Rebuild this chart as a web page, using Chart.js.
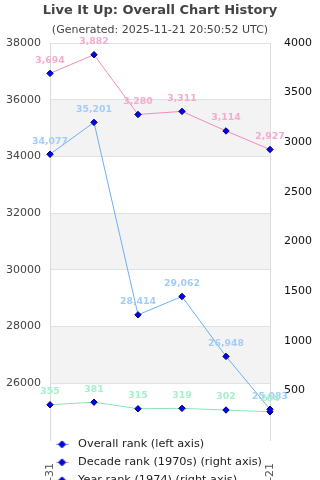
<!DOCTYPE html>
<html>
<head>
<meta charset="utf-8">
<script src="https://cdn.jsdelivr.net/npm/chart.js@4.4.1/dist/chart.umd.min.js"></script>
<style>
  html, body { margin: 0; padding: 0; background: #fff; overflow: hidden; }
  #wrap { width: 320px; height: 560px; }
</style>
</head>
<body>
<div id="wrap"><canvas id="historyChart"></canvas></div>
<script>
// snapshot dates (x axis)
const dates = ['2020-12-31', '2021-12-31', '2022-12-31', '2023-12-31', '2024-12-31', '2025-11-21'];
// ranks
const overallRank = [34077, 35201, 28414, 29062, 26948, 25083];
const decadeRank = [3694, 3882, 3280, 3311, 3114, 2927];
const yearRank = [355, 381, 315, 319, 302, 284];
// axis ranges
const leftRange = [24000, 38000];
const leftStep = 2000;
const rightRange = [0, 4000];
const rightStep = 500;

Chart.defaults.font.family = "'DejaVu Sans', sans-serif";

// legend marker: short coloured line with blue diamond on it
function legendMarker(color) {
    const c = document.createElement('canvas');
    c.width = 13;
    c.height = 9;
    const g = c.getContext('2d');
    g.strokeStyle = color;
    g.lineWidth = 1;
    g.beginPath();
    g.moveTo(0, 4.5);
    g.lineTo(13, 4.5);
    g.stroke();
    g.fillStyle = '#0000ff';
    g.strokeStyle = '#000080';
    g.beginPath();
    g.moveTo(6.5, 1);
    g.lineTo(10, 4.5);
    g.lineTo(6.5, 8);
    g.lineTo(3, 4.5);
    g.closePath();
    g.fill();
    g.stroke();
    return c;
}

// grey bands on every other interval of the left axis
const bandPlugin = {
    id: 'bands',
    beforeDraw(chart) {
        const { ctx, chartArea: a, scales: { y } } = chart;
        const ticks = y.ticks;
        ctx.save();
        ctx.fillStyle = '#f3f3f3';
        for (let i = 1; i < ticks.length - 1; i += 2) {
            const top = y.getPixelForValue(ticks[i + 1].value);
            const bottom = y.getPixelForValue(ticks[i].value);
            ctx.fillRect(a.left, top, a.right - a.left, bottom - top);
        }
        ctx.restore();
    }
};

// value labels above the points
const valueLabels = {
    id: 'valueLabels',
    afterDatasetsDraw(chart) {
        const ctx = chart.ctx;
        ctx.save();
        ctx.font = 'bold 9.3px ' + Chart.defaults.font.family;
        ctx.textAlign = 'center';
        ctx.textBaseline = 'middle';
        chart.data.datasets.forEach((ds, di) => {
            ctx.fillStyle = ds.labelColor;
            chart.getDatasetMeta(di).data.forEach((pt, i) => {
                ctx.fillText(ds.data[i].toLocaleString('en-US'), pt.x, pt.y - 13);
            });
        });
        ctx.restore();
    }
};

// legend sits over the bottom of the plot
const legendShift = {
    id: 'legendShift',
    beforeDraw(chart) {
        const lg = chart.legend;
        lg.left = 45;
        lg.top = chart.chartArea.bottom - 8;
        lg.bottom = lg.top + 120;
    }
};

const markers = [legendMarker('#6cb0f2'), legendMarker('#f28cbd'), legendMarker('#86e5b8')];

const ds = (label, data, axis, line, text) => ({
    label: label,
    data: data,
    yAxisID: axis,
    borderColor: line,
    backgroundColor: line,
    labelColor: text,
    borderWidth: 1,
    tension: 0,
    pointStyle: 'rectRot',
    pointRadius: 3.2,
    pointBackgroundColor: '#0000ff',
    pointBorderColor: '#000060',
    pointBorderWidth: 1
});

new Chart(document.getElementById('historyChart'), {
    type: 'line',
    data: {
        labels: dates,
        datasets: [
            ds('Overall rank (left axis)', overallRank, 'y', '#6cb0f2', '#a3cdf6'),
            ds('Decade rank (1970s) (right axis)', decadeRank, 'y1', '#f28cbd', '#f7aacd'),
            ds('Year rank (1974) (right axis)', yearRank, 'y1', '#86e5b8', '#a8efcc')
        ]
    },
    options: {
        responsive: true,
        maintainAspectRatio: false,
        animation: false,
        layout: { padding: 0 },
        scales: {
            x: {
                grid: { display: false },
                border: { display: false },
                ticks: {
                    autoSkip: false,
                    minRotation: 90,
                    maxRotation: 90,
                    padding: 15,
                    color: '#555',
                    font: { size: 11 },
                    callback(v, i, t) {
                        return (i === 0 || i === t.length - 1) ? this.getLabelForValue(v) : '';
                    }
                },
                afterFit(s) { s.height = 80; }
            },
            y: {
                position: 'left',
                min: leftRange[0],
                max: leftRange[1],
                ticks: {
                    stepSize: leftStep,
                    padding: 9,
                    color: '#444',
                    font: { size: 11 },
                    callback: v => v === leftRange[0] ? '' : v
                },
                grid: {
                    drawTicks: false,
                    color: c => c.tick && c.tick.value === leftRange[0] ? 'rgba(0,0,0,0)' : '#e2e2e2'
                },
                border: { color: '#dcdcdc' },
                afterFit(s) { s.width = 50; }
            },
            y1: {
                position: 'right',
                min: rightRange[0],
                max: rightRange[1],
                ticks: {
                    stepSize: rightStep,
                    padding: 14,
                    color: '#111',
                    font: { size: 11 },
                    callback: v => v === rightRange[0] ? '' : v
                },
                grid: { display: false, drawTicks: false },
                border: { color: '#dcdcdc' },
                afterFit(s) { s.width = 50; }
            }
        },
        plugins: {
            title: {
                display: true,
                text: 'Live It Up: Overall Chart History',
                color: '#444',
                font: { size: 13, weight: 'bold' },
                padding: { top: 3, bottom: 0 }
            },
            subtitle: {
                display: true,
                text: '(Generated: 2025-11-21 20:50:52 UTC)',
                color: '#444',
                font: { size: 11 },
                padding: { top: 4.8, bottom: 6.4 }
            },
            legend: {
                position: 'bottom',
                align: 'start',
                maxHeight: 40,
                labels: {
                    usePointStyle: true,
                    pointStyleWidth: 20.7,
                    padding: 6.7,
                    color: '#222',
                    font: { size: 11.3 },
                    generateLabels(chart) {
                        const items = Chart.defaults.plugins.legend.labels.generateLabels(chart);
                        items.forEach((it, i) => { it.pointStyle = markers[i]; });
                        return items;
                    }
                }
            },
            tooltip: { enabled: false }
        }
    },
    plugins: [bandPlugin, valueLabels, legendShift]
});
</script>
</body>
</html>
